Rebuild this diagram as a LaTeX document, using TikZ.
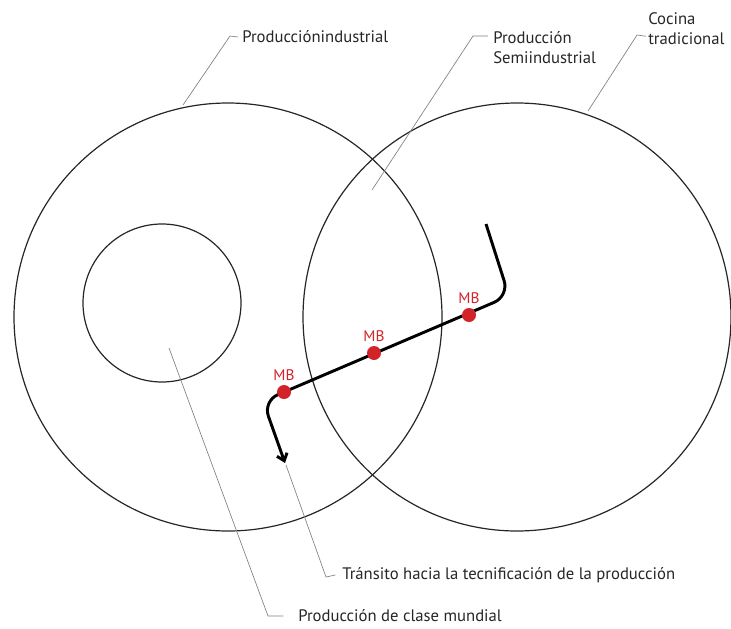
\documentclass[tikz,border=0pt]{standalone}
\usepackage{fontspec}
\setmainfont{PT Sans}
\usetikzlibrary{arrows.meta,calc,positioning}
\definecolor{mbred}{RGB}{210,35,40}

\begin{document}
\begin{tikzpicture}[x=0.75pt,y=-0.75pt,
    ring/.style={draw,circle,inner sep=0pt,outer sep=0pt,line width=0.9pt,black!85},
    leader/.style={draw,gray,line width=0.5pt},
    txt/.style={anchor=west,inner sep=0pt,font=\fontsize{12.5}{15.5}\selectfont,text=black!85,align=left},
    dot/.style={circle,fill=mbred,inner sep=0pt,minimum size=10.5pt},
    mblabel/.style={text=mbred,font=\fontsize{11.5}{13}\selectfont,inner sep=0pt,label distance=3pt},
    trail/.style={line width=2.2pt,rounded corners=12pt}]
    \useasboundingbox (0,0) rectangle (731,628);

    \coordinate (ci) at (228,317);
    \coordinate (cc) at (517,317);
    \coordinate (cm) at (162,303);

    \node (ind) [ring,minimum size=321pt] at (ci) {};
    \node (coc) [ring,minimum size=321pt] at (cc) {};
    \node (mun) [ring,minimum size=118.5pt] at (cm) {};

    \coordinate (start) at (486,224);
    \coordinate (tip) at (285,463);
    \draw[trail,-{Straight Barb[length=5pt,width=8pt]}] (start) -- (509,296) -- (263,401) -- (tip);

    \node (mb1) [dot,label={[mblabel]90:MB}] at (469,315) {};
    \node (mb2) [dot,label={[mblabel]90:MB}] at (374,353) {};
    \node (mb3) [dot,label={[mblabel]90:MB}] at (284,392) {};

    \node (lind) [txt] at (242,37) {Producciónindustrial};
    \node (lsemi) [txt,anchor=north west] at (493,31) {Producción\\Semiindustrial};
    \node (lcoc) [txt,anchor=north west] at (648,12) {Cocina\\tradicional};
    \node (ltra) [txt] at (342,575) {Tránsito hacia la tecnificación de la producción};
    \node (lmun) [txt] at (298,616) {Producción de clase mundial};

    \coordinate (lens) at (372,190);
    \coordinate (pm) at (169,348);

    \draw[leader] (ind.north) ++(-45,2) -- (230,36) -- ([xshift=-3pt]lind.west);
    \draw[leader] (lens) -- (473,36) -- ($(lsemi.north west)+(-5,5)$);
    \draw[leader] (coc.north) ++(71,8) -- (637,35) -- ($(lcoc.south west)+(-2,-9)$);
    \draw[leader] (tip) ++(1,2) -- (326,577) -- ([xshift=-5pt]ltra.west);
    \draw[leader] (pm) -- (268,616) -- ([xshift=-11pt]lmun.west);
  \end{tikzpicture}
\end{document}
